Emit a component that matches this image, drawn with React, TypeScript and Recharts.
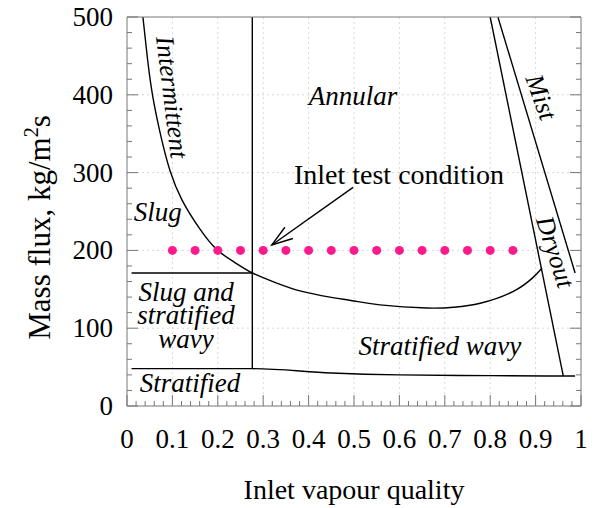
import React from "react";
import {
  CartesianGrid,
  ComposedChart,
  Label,
  Line,
  ReferenceDot,
  ReferenceLine,
  XAxis,
  YAxis,
} from "recharts";

// Flow pattern map boundaries: x = inlet vapour quality, y = mass flux (kg/m2s)
const intermittentAnnular = [
  { x: 0.035, y: 500 },
  { x: 0.045, y: 447 },
  { x: 0.057, y: 397 },
  { x: 0.075, y: 346 },
  { x: 0.095, y: 302 },
  { x: 0.121, y: 265 },
  { x: 0.16, y: 228 },
  { x: 0.198, y: 201 },
  { x: 0.236, y: 185 },
  { x: 0.276, y: 171 },
  { x: 0.33, y: 158 },
  { x: 0.381, y: 148 },
  { x: 0.447, y: 140 },
  { x: 0.5, y: 135 },
  { x: 0.557, y: 130 },
  { x: 0.66, y: 126 },
  { x: 0.72, y: 127 },
  { x: 0.778, y: 132 },
  { x: 0.85, y: 147 },
  { x: 0.894, y: 165 },
  { x: 0.914, y: 177 },
];
const slugBoundary = [
  { x: 0.01, y: 171 },
  { x: 0.276, y: 171 },
];
const annularDivider = [
  { x: 0.276, y: 48 },
  { x: 0.276, y: 500 },
];
const stratifiedBoundary = [
  { x: 0.01, y: 48 },
  { x: 0.276, y: 48 },
  { x: 0.45, y: 42.5 },
  { x: 0.6, y: 40 },
  { x: 0.8, y: 39 },
  { x: 0.961, y: 38.5 },
  { x: 0.987, y: 38.5 },
];
const dryoutStart = [
  { x: 0.8, y: 500 },
  { x: 0.961, y: 38.5 },
];
const dryoutEnd = [
  { x: 0.817, y: 500 },
  { x: 0.987, y: 171 },
];

// Tested inlet conditions
const inletQualities = [0.1, 0.15, 0.2, 0.25, 0.3, 0.35, 0.4, 0.45, 0.5, 0.55, 0.6, 0.65, 0.7, 0.75, 0.8, 0.85];
const inletMassFlux = 200;
const inletPoints = inletQualities.map((x) => ({ x, y: inletMassFlux }));

const xGridValues = [0.1, 0.2, 0.3, 0.4, 0.5, 0.6, 0.7, 0.8, 0.9];
const yGridValues = [100, 200, 300, 400];
const xTicks = Array.from({ length: 51 }, (_, i) => i / 50);
const yTicks = Array.from({ length: 26 }, (_, i) => i * 20);

const AXIS = "#777";
const PINK = "#fb1a8c";
const FONT = "Liberation Serif";

const isMajorX = (v: number) => Math.round(v * 50) % 5 === 0;
const isMajorY = (v: number) => Math.round(v) % 100 === 0;
const fmtX = (v: number) => (v === 0 ? "0" : v === 1 ? "1" : v.toFixed(1));

function BottomTick({ x, y, payload }: any) {
  const major = isMajorX(payload.value);
  return (
    <g>
      <line x1={x} x2={x} y1={y} y2={y - (major ? 11 : 5)} stroke={AXIS} />
      {major && (
        <text x={x} y={y + 42} textAnchor="middle" fontFamily={FONT} fontSize={27} fill="#000">
          {fmtX(payload.value)}
        </text>
      )}
    </g>
  );
}

function TopTick({ x, y, payload }: any) {
  const major = isMajorX(payload.value);
  return <line x1={x} x2={x} y1={y} y2={y + (major ? 11 : 5)} stroke={AXIS} />;
}

function LeftTick({ x, y, payload }: any) {
  const major = isMajorY(payload.value);
  return (
    <g>
      <line x1={x} x2={x + (major ? 11 : 5)} y1={y} y2={y} stroke={AXIS} />
      {major && (
        <text x={x - 14} y={y + 9} textAnchor="end" fontFamily={FONT} fontSize={27} fill="#000">
          {payload.value}
        </text>
      )}
    </g>
  );
}

function RightTick({ x, y, payload }: any) {
  const major = isMajorY(payload.value);
  return <line x1={x} x2={x - (major ? 11 : 5)} y1={y} y2={y} stroke={AXIS} />;
}

const regionText =
  (text: string, angle = 0, size = 27, italic = true) =>
  (p: any) =>
    (
      <text
        x={p.cx}
        y={p.cy}
        transform={angle ? `rotate(${angle} ${p.cx} ${p.cy})` : undefined}
        textAnchor="middle"
        dominantBaseline="central"
        fontFamily={FONT}
        fontStyle={italic ? "italic" : "normal"}
        fontSize={size}
        fill="#000"
      >
        {text}
      </text>
    );

function ArrowShape(p: any) {
  const { x1, y1, x2, y2 } = p;
  const a = Math.atan2(y1 - y2, x1 - x2);
  const len = 22;
  const spread = 0.32;
  const b1 = [x2 + len * Math.cos(a - spread), y2 + len * Math.sin(a - spread)];
  const b2 = [x2 + len * Math.cos(a + spread), y2 + len * Math.sin(a + spread)];
  return (
    <g stroke="#000" strokeWidth={1.4} fill="none">
      <line x1={x1} y1={y1} x2={x2} y2={y2} />
      <polyline points={`${b1[0]},${b1[1]} ${x2},${y2} ${b2[0]},${b2[1]}`} />
    </g>
  );
}

function YTitle({ viewBox }: any) {
  const cx = viewBox.x + 42;
  const cy = viewBox.y + viewBox.height / 2 + 16;
  return (
    <text
      x={cx}
      y={cy}
      transform={`rotate(-90 ${cx} ${cy})`}
      textAnchor="middle"
      fontFamily={FONT}
      fontSize={31}
      fill="#000"
    >
      Mass flux, kg/m
      <tspan fontSize={20} dy={-12}>
        2
      </tspan>
      <tspan dy={12}>s</tspan>
    </text>
  );
}

function XTitle({ viewBox }: any) {
  return (
    <text
      x={viewBox.x + viewBox.width / 2}
      y={viewBox.y + 93}
      textAnchor="middle"
      fontFamily={FONT}
      fontSize={28}
      fill="#000"
    >
      Inlet vapour quality
    </text>
  );
}

const boundary = { stroke: "#000", strokeWidth: 1.4, dot: false, isAnimationActive: false } as const;

export default function App() {
  // pull the svg over the body margin so the top tick label is not clipped
  return (
    <div style={{ margin: "-8px 0 0 -8px" }}>
      <ComposedChart width={599} height={508} margin={{ top: 16, right: 17, bottom: 0, left: 8 }}>
        <CartesianGrid
          verticalValues={xGridValues}
          horizontalValues={yGridValues}
          stroke="#d8d8d8"
          strokeDasharray="2 3"
        />
        <XAxis
          type="number"
          dataKey="x"
          domain={[0, 1]}
          ticks={xTicks}
          interval={0}
          tickSize={0}
          tickMargin={0}
          tick={<BottomTick />}
          axisLine={{ stroke: AXIS }}
          height={102}
          allowDataOverflow
        >
          <Label content={<XTitle />} />
        </XAxis>
        <XAxis
          xAxisId="top"
          orientation="top"
          type="number"
          domain={[0, 1]}
          ticks={xTicks}
          interval={0}
          tickSize={0}
          tickMargin={0}
          tick={<TopTick />}
          axisLine={{ stroke: AXIS }}
          height={1}
          allowDataOverflow
        />
        <YAxis
          type="number"
          domain={[0, 500]}
          ticks={yTicks}
          interval={0}
          tickSize={0}
          tickMargin={0}
          tick={<LeftTick />}
          axisLine={{ stroke: AXIS }}
          width={119}
          allowDataOverflow
        >
          <Label content={<YTitle />} />
        </YAxis>
        <YAxis
          yAxisId="right"
          orientation="right"
          type="number"
          domain={[0, 500]}
          ticks={yTicks}
          interval={0}
          tickSize={0}
          tickMargin={0}
          tick={<RightTick />}
          axisLine={{ stroke: AXIS }}
          width={1}
          allowDataOverflow
        />

        <Line data={intermittentAnnular} dataKey="y" type="natural" {...boundary} />
        <Line data={slugBoundary} dataKey="y" type="linear" {...boundary} />
        <Line data={annularDivider} dataKey="y" type="linear" {...boundary} />
        <Line data={stratifiedBoundary} dataKey="y" type="monotone" {...boundary} />
        <Line data={dryoutStart} dataKey="y" type="linear" {...boundary} />
        <Line data={dryoutEnd} dataKey="y" type="linear" {...boundary} />
        <Line
          data={inletPoints}
          dataKey="y"
          stroke="none"
          dot={{ r: 4.5, fill: PINK, stroke: "none" }}
          isAnimationActive={false}
        />

        <ReferenceLine
          segment={[
            { x: 0.498, y: 281 },
            { x: 0.319, y: 207 },
          ]}
          shape={ArrowShape}
        />

        <ReferenceDot x={0.099} y={397} shape={regionText("Intermittent", 83, 26)} />
        <ReferenceDot x={0.498} y={398} shape={regionText("Annular")} />
        <ReferenceDot x={0.912} y={397} shape={regionText("Mist", 70, 26)} />
        <ReferenceDot x={0.943} y={198} shape={regionText("Dryout", 72, 26)} />
        <ReferenceDot x={0.599} y={297} shape={regionText("Inlet test condition", 0, 28, false)} />
        <ReferenceDot x={0.068} y={249} shape={regionText("Slug")} />
        <ReferenceDot x={0.13} y={146} shape={regionText("Slug and")} />
        <ReferenceDot x={0.13} y={117} shape={regionText("stratified")} />
        <ReferenceDot x={0.13} y={86} shape={regionText("wavy")} />
        <ReferenceDot x={0.139} y={29} shape={regionText("Stratified")} />
        <ReferenceDot x={0.689} y={77} shape={regionText("Stratified wavy")} />
      </ComposedChart>
    </div>
  );
}
